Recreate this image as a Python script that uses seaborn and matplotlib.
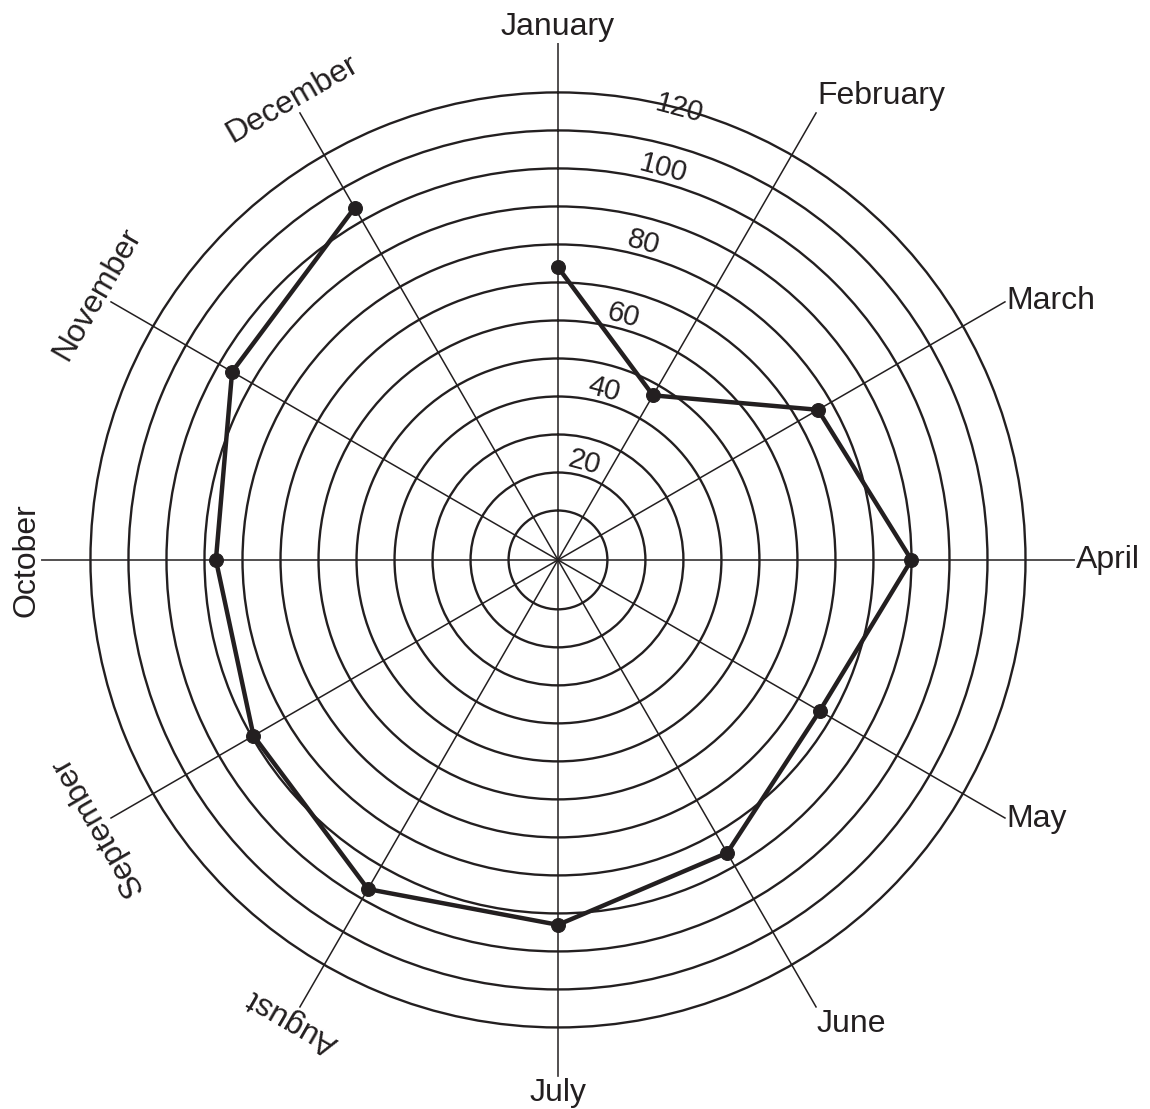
import numpy as np
import pandas as pd
import matplotlib
matplotlib.use("Agg")
import matplotlib.pyplot as plt
import seaborn as sns

# Data
months = ["January", "February", "March", "April", "May", "June",
          "July", "August", "September", "October", "November", "December"]
values = [74, 47, 76, 90, 76.5, 86, 93, 97, 89.5, 87, 96, 104]
ring_ticks = list(range(10, 121, 10))
ring_labels = [20, 40, 60, 80, 100, 120]

INK = "#231f20"

sns.set_style("white")
plt.rcParams["font.family"] = ["Liberation Sans", "DejaVu Sans"]

fig = plt.figure(figsize=(11.5, 11.09), dpi=100)
ax = fig.add_axes([0.0357, 0.0289, 0.899, 0.9324], projection="polar")
ax.set_theta_zero_location("N")
ax.set_theta_direction(-1)

r_min, r_max = -3, 133
ax.set_ylim(r_min, r_max)

angles = np.deg2rad(np.arange(len(months)) * 30)
ax.set_xticks(angles)
ax.set_xticklabels([])
ax.set_yticks(ring_ticks)
ax.set_yticklabels([])
ax.xaxis.grid(True, color=INK, lw=1.1)
ax.yaxis.grid(True, color=INK, lw=1.7)
ax.spines["polar"].set_visible(False)

# closed polygon of the data
df = pd.DataFrame({"theta": angles, "value": values})
df = pd.concat([df, df.iloc[:1]], ignore_index=True)
sns.lineplot(data=df, x="theta", y="value", ax=ax, sort=False, color=INK,
             lw=3.2, marker="o", markersize=10, markeredgecolor=INK, zorder=5)
ax.set_xlabel("")
ax.set_ylabel("")
ax.set_ylim(r_min, r_max)

# month labels at the spoke ends
right_side = {
    "January": ("center", "bottom"),
    "February": ("left", "bottom"),
    "March": ("left", "center"),
    "April": ("left", "center"),
    "May": ("left", "center"),
    "June": ("left", "top"),
    "July": ("center", "top"),
}
for i, (m, a) in enumerate(zip(months, angles)):
    if m in right_side:
        ha, va = right_side[m]
        ax.text(a, r_max + 0.3, m, ha=ha, va=va, fontsize=23, color=INK)
    else:
        rot = 360 - i * 30
        ax.text(a, r_max, m, ha="center", va="bottom", rotation=rot,
                rotation_mode="anchor", fontsize=23, color=INK)

# radial value labels
for v in ring_labels:
    r = v if v == 120 else v + 3.5
    ax.text(np.deg2rad(15), r, str(v), ha="center", va="center",
            rotation=-15, fontsize=21, color=INK, zorder=6)

fig.savefig("out.png", dpi=100, facecolor="white")
